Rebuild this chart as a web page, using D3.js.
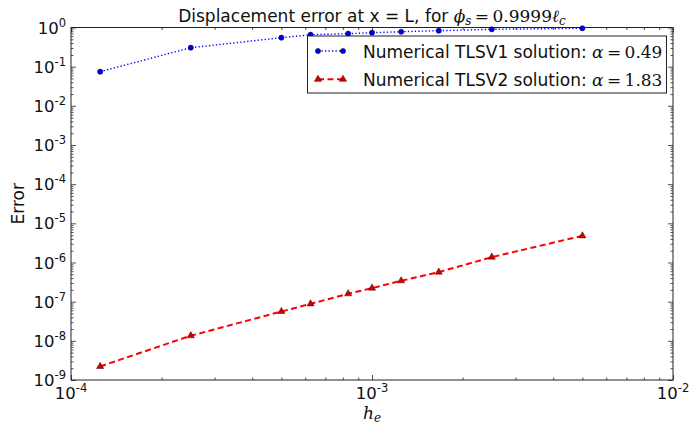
<!DOCTYPE html>
<html><head><meta charset="utf-8">
<script src="https://cdn.jsdelivr.net/npm/d3@7"></script>
<style>
html,body{margin:0;padding:0;background:#fff;}
svg{display:block;font-family:"DejaVu Sans",sans-serif;}
</style></head>
<body><svg id="chart" width="695" height="431"></svg>
<script>
// ---- data ----
const hValues = [1/8000, 1/4000, 1/2000, 1/1600, 1/1200, 1/1000, 1/800, 1/600, 1/400, 1/200];
const errTLSV1 = [0.0745, 0.305, 0.55, 0.655, 0.695, 0.737, 0.78, 0.83, 0.90, 0.955];
const errTLSV2 = [2.22e-9, 1.35e-8, 5.6e-8, 8.8e-8, 1.59e-7, 2.22e-7, 3.41e-7, 5.69e-7, 1.37e-6, 4.8e-6];
const xTickValues = [1e-4, 1e-3, 1e-2];
const xTickExps = ["-4", "-3", "-2"];
const yTickValues = [1e0, 1e-1, 1e-2, 1e-3, 1e-4, 1e-5, 1e-6, 1e-7, 1e-8, 1e-9];
const yTickExps = ["0", "-1", "-2", "-3", "-4", "-5", "-6", "-7", "-8", "-9"];
const legendLabels = ["Numerical TLSV1 solution: ", "Numerical TLSV2 solution: "];
const legendAlphas = ["0.49", "1.83"];

const svg = d3.select("#chart");
const L = 71, R = 673, T = 27.5, B = 380;
const x = d3.scaleLog().domain([1e-4, 1e-2]).range([L, R]);
const y = d3.scaleLog().domain([1e-9, 1e0]).range([B, T]);

function minors(lo, hi) {
  const out = [];
  for (let e = lo; e < hi; e++) for (let m = 2; m <= 9; m++) out.push(m * Math.pow(10, e));
  return out;
}
const xMinor = minors(-4, -2);
const yMinor = minors(-9, 0);
const MAJ = 5, MIN = 2.5;

function tickAxis(axisFn, scale, vals, size, transform) {
  const g = svg.append("g").attr("transform", transform)
    .call(axisFn(scale).tickValues(vals).tickSize(-size).tickFormat(""));
  g.select(".domain").remove();
  g.selectAll("line").attr("stroke", "#222").attr("stroke-width", 0.8);
  return g;
}
tickAxis(d3.axisBottom, x, xTickValues, MAJ, `translate(0,${B})`);
tickAxis(d3.axisBottom, x, xMinor, MIN, `translate(0,${B})`);
tickAxis(d3.axisTop, x, xTickValues, MAJ, `translate(0,${T})`);
tickAxis(d3.axisTop, x, xMinor, MIN, `translate(0,${T})`);
tickAxis(d3.axisLeft, y, yTickValues, MAJ, `translate(${L},0)`);
tickAxis(d3.axisLeft, y, yMinor, MIN, `translate(${L},0)`);
tickAxis(d3.axisRight, y, yTickValues, MAJ, `translate(${R},0)`);
tickAxis(d3.axisRight, y, yMinor, MIN, `translate(${R},0)`);

svg.append("rect").attr("x", L).attr("y", T).attr("width", R - L).attr("height", B - T)
  .attr("fill", "none").attr("stroke", "#222").attr("stroke-width", 1);

const xl = svg.append("g");
xTickValues.forEach((v, i) => {
  const t = xl.append("text").attr("x", x(v)).attr("y", B + 19)
    .attr("text-anchor", "middle").attr("font-size", 16.5).attr("fill", "#111");
  t.append("tspan").text("10");
  t.append("tspan").attr("dy", -7).attr("font-size", 11.5).text(xTickExps[i]);
});
const yl = svg.append("g");
yTickValues.forEach((v, i) => {
  const t = yl.append("text").attr("x", L - 5).attr("y", y(v) + 6)
    .attr("text-anchor", "end").attr("font-size", 16.5).attr("fill", "#111");
  t.append("tspan").text("10");
  t.append("tspan").attr("dy", -7).attr("font-size", 11.5).text(yTickExps[i]);
});

const line1 = d3.line().x((d, i) => x(hValues[i])).y(d => y(d));
svg.append("path").datum(errTLSV1).attr("d", line1)
  .attr("fill", "none").attr("stroke", "#0000ff").attr("stroke-width", 1.4)
  .attr("stroke-dasharray", "1.3,2.2");
svg.append("g").selectAll("circle").data(errTLSV1).join("circle")
  .attr("cx", (d, i) => x(hValues[i])).attr("cy", d => y(d)).attr("r", 2.6)
  .attr("fill", "#0000e0").attr("stroke", "#000050").attr("stroke-width", 0.5);

svg.append("path").datum(errTLSV2).attr("d", line1)
  .attr("fill", "none").attr("stroke", "#ff0000").attr("stroke-width", 2)
  .attr("stroke-dasharray", "6,3.5");
const tri = d3.symbol().type(d3.symbolTriangle).size(22);
svg.append("g").selectAll("path").data(errTLSV2).join("path")
  .attr("d", tri)
  .attr("transform", (d, i) => `translate(${x(hValues[i])},${y(d)})`)
  .attr("fill", "#d00000").attr("stroke", "#400000").attr("stroke-width", 0.5);

const lg = svg.append("g");
lg.append("rect").attr("x", 307.5).attr("y", 36).attr("width", 359).attr("height", 57)
  .attr("fill", "#fff").attr("stroke", "#222").attr("stroke-width", 1);
[0, 1].forEach(i => {
  const ly = 51 + i * 28.3;
  const x1 = 318, x2 = 343;
  lg.append("line").attr("x1", x1).attr("x2", x2).attr("y1", ly).attr("y2", ly)
    .attr("stroke", i === 0 ? "#0000ff" : "#ff0000")
    .attr("stroke-width", i === 0 ? 1.4 : 2)
    .attr("stroke-dasharray", i === 0 ? "1.3,2.2" : "6,3.5");
  [x1, x2].forEach(px => {
    if (i === 0) {
      lg.append("circle").attr("cx", px).attr("cy", ly).attr("r", 2.6)
        .attr("fill", "#0000e0").attr("stroke", "#000050").attr("stroke-width", 0.5);
    } else {
      lg.append("path").attr("d", tri).attr("transform", `translate(${px},${ly})`)
        .attr("fill", "#d00000").attr("stroke", "#400000").attr("stroke-width", 0.5);
    }
  });
  const t = lg.append("text").attr("x", 363).attr("y", ly + 6.5).attr("font-size", 17).attr("fill", "#111");
  t.append("tspan").text(legendLabels[i]);
  t.append("tspan").attr("font-family", "'DejaVu Serif',serif").attr("font-style", "italic").text("α");
  t.append("tspan").attr("font-family", "'DejaVu Serif',serif").text("\u2009=\u2009" + legendAlphas[i]);
});

const tt = svg.append("text").attr("x", 372).attr("y", 22).attr("text-anchor", "middle")
  .attr("font-size", 17).attr("fill", "#111");
tt.append("tspan").text("Displacement error at x = L, for ");
tt.append("tspan").attr("font-family", "'DejaVu Serif',serif").attr("font-style", "italic").text("ϕ");
tt.append("tspan").attr("font-family", "'DejaVu Serif',serif").attr("font-style", "italic").attr("font-size", 12).attr("dy", 3).text("s");
tt.append("tspan").attr("font-family", "'DejaVu Serif',serif").attr("dy", -3).text("\u2009=\u20090.9999");
tt.append("tspan").attr("font-family", "'DejaVu Serif',serif").attr("font-style", "italic").text("ℓ");
tt.append("tspan").attr("font-family", "'DejaVu Serif',serif").attr("font-style", "italic").attr("font-size", 12).attr("dy", 3).text("c");

const xlab = svg.append("text").attr("x", 372).attr("y", 419).attr("text-anchor", "middle")
  .attr("font-size", 17).attr("font-family", "'DejaVu Serif',serif").attr("fill", "#111");
xlab.append("tspan").attr("font-style", "italic").text("h");
xlab.append("tspan").attr("font-style", "italic").attr("font-size", 12).attr("dy", 3).text("e");

svg.append("text").attr("transform", `translate(24,${(T + B) / 2}) rotate(-90)`)
  .attr("text-anchor", "middle").attr("font-size", 17).attr("fill", "#111").text("Error");
</script></body></html>
